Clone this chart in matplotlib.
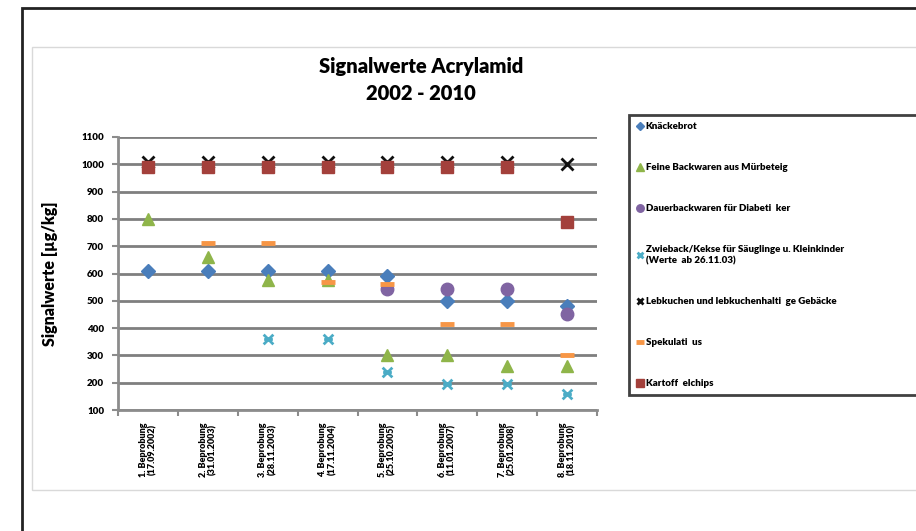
import numpy as np
import matplotlib.pyplot as plt
from matplotlib.patches import Rectangle
from matplotlib.path import Path

plt.rcParams['font.family'] = ['Lato', 'DejaVu Sans']

probes = ["1. Beprobung\n(17.09.2002)", "2. Beprobung\n(31.01.2003)", "3. Beprobung\n(28.11.2003)",
          "4. Beprobung\n(17.11.2004)", "5. Beprobung\n(25.10.2005)", "6. Beprobung\n(11.01.2007)",
          "7. Beprobung\n(25.01.2008)", "8. Beprobung\n(18.11.2010)"]

knaeckebrot = [610, 610, 610, 610, 590, 500, 500, 480]
feine_backwaren = [800, 660, 575, 575, 300, 300, 260, 260]
dauerbackwaren = [np.nan, np.nan, np.nan, np.nan, 545, 545, 545, 450]
zwieback = [np.nan, np.nan, 360, 360, 240, 195, 195, 160]
lebkuchen = [1010, 1010, 1010, 1010, 1010, 1010, 1010, 1000]
spekulatius = [np.nan, 710, 710, 570, 560, 415, 415, 300]
kartoffelchips = [990, 990, 990, 990, 990, 990, 990, 790]

labels = ["Knäckebrot", "Feine Backwaren aus Mürbeteig", "Dauerbackwaren für Diabeti  ker",
          "Zwieback/Kekse für Säuglinge u. Kleinkinder\n(Werte  ab 26.11.03)",
          "Lebkuchen und lebkuchenhalti  ge Gebäcke", "Spekulati  us", "Kartoff  elchips"]

# star marker like Excel's (x with a bar through the middle)
star = Path([(-1, -1), (1, 1), (-1, 1), (1, -1), (-0.9, 0), (0.9, 0)],
            [Path.MOVETO, Path.LINETO] * 3)

fig = plt.figure(figsize=(9.16, 5.31), dpi=100)

# outer frames
fig.patches.append(Rectangle((22 / 916, -0.1), 1.1, (531 - 8) / 531 + 0.1, transform=fig.transFigure,
                             fill=False, edgecolor='#222222', linewidth=2))
fig.patches.append(Rectangle((32 / 916, (531 - 490) / 531), 1.1, (490 - 47) / 531, transform=fig.transFigure,
                             fill=False, edgecolor='#d9d9d9', linewidth=1))

ax = fig.add_axes([118 / 916, (531 - 410) / 531, (597 - 118) / 916, (410 - 137) / 531])
x = np.arange(len(probes))

series = [
    (knaeckebrot, dict(marker='D', color='#4a7ebb', ms=7.5, mec='#4a7ebb')),
    (feine_backwaren, dict(marker='^', color='#8fb54a', ms=9, mec='#8fb54a')),
    (dauerbackwaren, dict(marker='o', color='#8064a2', ms=9, mec='#8064a2')),
    (zwieback, dict(marker=star, color='#4bacc6', ms=7, mew=2, mfc='none', mec='#4bacc6')),
    (lebkuchen, dict(marker='x', color='#111111', ms=8, mew=2, mec='#111111')),
    (spekulatius, dict(marker='_', color='#f79646', ms=10, mew=3.5, mec='#f79646')),
    (kartoffelchips, dict(marker='s', color='#a3403b', ms=9, mec='#a3403b')),
]

handles = []
for vals, st in series:
    h, = ax.plot(x, vals, linestyle='none', zorder=3, **st)
    handles.append(h)

ax.set_xlim(-0.5, len(probes) - 0.5)
ax.set_ylim(100, 1100)
ax.set_yticks(np.arange(100, 1101, 100))
ax.tick_params(axis='y', labelsize=7, length=4, width=1.5, color='#8c8c8c', pad=6)
for t in ax.get_yticklabels():
    t.set_fontweight('heavy')
ax.set_xticks(x)
ax.set_xticklabels(probes, rotation=90, fontsize=6.5, fontweight='heavy', linespacing=1.05)
ax.set_xticks(np.arange(-0.5, len(probes)), minor=True)
ax.tick_params(axis='x', which='major', length=0, pad=9)
ax.tick_params(axis='x', which='minor', length=4, width=1.5, color='#8c8c8c')
ax.grid(axis='y', color='#7f7f7f', linewidth=2)
ax.set_axisbelow(True)
for s in ['top', 'right']:
    ax.spines[s].set_visible(False)
ax.spines['left'].set_color('#8c8c8c')
ax.spines['left'].set_linewidth(2)
ax.spines['bottom'].set_color('#8c8c8c')
ax.spines['bottom'].set_linewidth(2)

ax.set_ylabel("Signalwerte [µg/kg]", fontsize=11.5, fontweight='heavy', labelpad=17)

fig.text(421 / 916, 1 - 80 / 531, "Signalwerte Acrylamid\n2002 - 2010", ha='center', va='center',
         fontsize=14.5, fontweight='heavy', linespacing=1.45)

leg = fig.legend(handles, labels, loc='upper left', mode='expand',
                 bbox_to_anchor=(624 / 916, 1 - 400 / 531, 0.5, 290 / 531),
                 frameon=True, fancybox=False, labelspacing=3.3, handlelength=0.7,
                 handletextpad=0.3, borderpad=0.75, markerscale=0.6,
                 prop={'weight': 'heavy', 'size': 7})
leg.get_frame().set_edgecolor('#111111')
leg.get_frame().set_linewidth(2)

fig.savefig('out.png', dpi=100)
